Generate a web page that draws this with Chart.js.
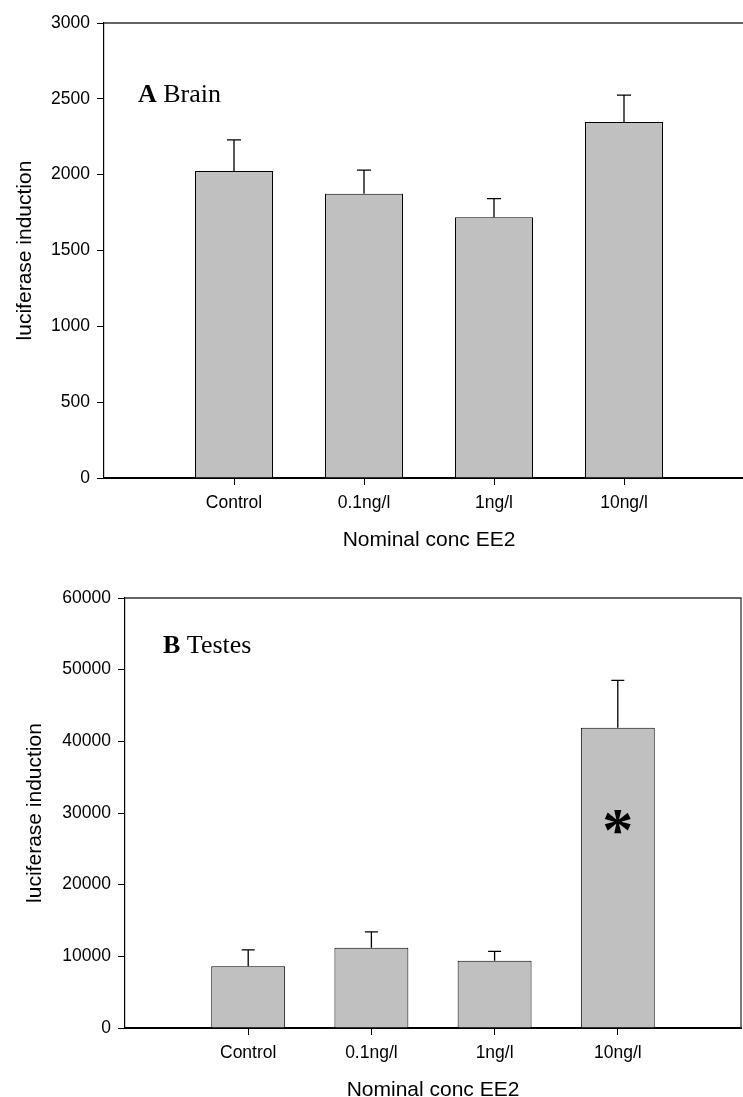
<!DOCTYPE html>
<html><head><meta charset="utf-8">
<script src="https://cdn.jsdelivr.net/npm/chart.js@4.4.1/dist/chart.umd.min.js"></script>
<style>
html,body{margin:0;padding:0;overflow:hidden;background:#fff;width:743px;height:1097px;position:relative;}
canvas{position:absolute;left:0;}
</style></head><body>
<canvas id="brain" width="770" height="560" style="top:0"></canvas>
<canvas id="testes" width="749" height="560" style="top:560px"></canvas>
<script>
// ---- data ----
const categories = ['Control', '0.1ng/l', '1ng/l', '10ng/l'];
const brainMean = [2025, 1875, 1720, 2347];
const brainUpperErr = [2230, 2030, 1842, 2525];
const testesMean = [8600, 11200, 9400, 41900];
const testesUpperErr = [10900, 13400, 10700, 48500];
const testesSignificant = [false, false, false, true];
const brainTicks = [0, 500, 1000, 1500, 2000, 2500, 3000];
const testesTicks = [0, 10000, 20000, 30000, 40000, 50000, 60000];
const xTitle = 'Nominal conc EE2';
const yTitle = 'luciferase induction';

// ---- helpers ----
const SANS = '"Liberation Sans", Arial, sans-serif';
const SERIF = '"Liberation Serif", "Times New Roman", serif';
const pad = arr => [null, ...arr, null];
const labels = ['', ...categories, ''];

const errorBarPlugin = {
  id: 'errorBars',
  afterDatasetsDraw(chart, args, opts) {
    const ctx = chart.ctx, ys = chart.scales.y;
    chart.data.datasets.forEach((ds, di) => {
      chart.getDatasetMeta(di).data.forEach((bar, i) => {
        const top = ds.errorTop[i];
        if (top == null || ds.data[i] == null) return;
        const yt = ys.getPixelForValue(top);
        ctx.save();
        ctx.strokeStyle = '#000'; ctx.lineWidth = 1.3;
        ctx.beginPath();
        ctx.moveTo(bar.x, bar.y); ctx.lineTo(bar.x, yt);
        ctx.moveTo(bar.x - opts.cap / 2, yt); ctx.lineTo(bar.x + opts.cap / 2, yt);
        ctx.stroke();
        ctx.restore();
      });
    });
  }
};

const framePlugin = {
  id: 'frame',
  afterDraw(chart, args, opts) {
    const {ctx, chartArea: a} = chart;
    ctx.save();
    ctx.strokeStyle = opts.color; ctx.lineWidth = opts.width;
    ctx.beginPath();
    ctx.moveTo(a.left, a.top); ctx.lineTo(a.right, a.top); ctx.lineTo(a.right, a.bottom);
    ctx.stroke();
    ctx.restore();
  }
};

const panelLabelPlugin = {
  id: 'panelLabel',
  afterDraw(chart, args, opts) {
    const {ctx, chartArea: a} = chart;
    ctx.save();
    ctx.fillStyle = '#000'; ctx.textBaseline = 'alphabetic'; ctx.textAlign = 'left';
    let x = a.left + opts.dx; const y = a.top + opts.dy;
    ctx.font = 'bold ' + opts.size + 'px ' + SERIF;
    ctx.fillText(opts.bold, x, y);
    x += ctx.measureText(opts.bold).width;
    ctx.font = opts.size + 'px ' + SERIF;
    ctx.fillText(opts.text, x, y);
    ctx.restore();
  }
};

const asteriskPlugin = {
  id: 'asterisk',
  afterDatasetsDraw(chart, args, opts) {
    if (!opts.marks) return;
    const ctx = chart.ctx, ys = chart.scales.y;
    const meta = chart.getDatasetMeta(0);
    ctx.save();
    ctx.fillStyle = '#000'; ctx.font = 'bold ' + opts.size + 'px ' + SERIF;
    ctx.textAlign = 'left'; ctx.textBaseline = 'alphabetic';
    opts.marks.forEach((m, i) => {
      if (!m) return;
      const bar = meta.data[i];
      const cy = ys.getPixelForValue(opts.value);
      const mt = ctx.measureText('*');
      const w = mt.actualBoundingBoxLeft + mt.actualBoundingBoxRight;
      const h = mt.actualBoundingBoxAscent + mt.actualBoundingBoxDescent;
      const x = bar.x - w / 2 + mt.actualBoundingBoxLeft;
      const y = cy - h / 2 + mt.actualBoundingBoxAscent;
      ctx.fillText('*', x, y);
    });
    ctx.restore();
  }
};

function makeChart(id, cfg) {
  return new Chart(document.getElementById(id), {
    type: 'bar',
    data: {
      labels: labels,
      datasets: [{
        data: pad(cfg.mean),
        errorTop: pad(cfg.err),
        backgroundColor: '#c0c0c0',
        borderColor: '#000',
        borderWidth: 1,
        categoryPercentage: 1,
        barPercentage: 0.6
      }]
    },
    options: {
      responsive: false,
      animation: false,
      events: [],
      layout: {padding: cfg.padding},
      plugins: {
        legend: {display: false},
        tooltip: {enabled: false},
        errorBars: {cap: cfg.cap},
        frame: {color: '#333', width: 1.3},
        panelLabel: cfg.panel,
        asterisk: cfg.asterisk || {}
      },
      scales: {
        x: {
          type: 'category',
          offset: false,
          grid: {
            display: true, drawOnChartArea: false, drawTicks: true, tickLength: 7, offset: false,
            tickWidth: 1,
            tickColor: c => (c.index === 0 || c.index === labels.length - 1) ? 'rgba(0,0,0,0)' : '#000'
          },
          border: {display: true, color: '#000', width: 2},
          ticks: {color: '#000', font: {family: SANS, size: 17.5}, padding: 8, maxRotation: 0, autoSkip: false},
          title: {display: true, text: xTitle, color: '#000', font: {family: SANS, size: 21}, padding: {top: 0, bottom: cfg.xTitlePad}},
          afterFit: s => { s.height = cfg.xHeight; }
        },
        y: {
          min: cfg.ticks[0],
          max: cfg.ticks[cfg.ticks.length - 1],
          afterBuildTicks: s => { s.ticks = cfg.ticks.map(v => ({value: v})); },
          grid: {drawOnChartArea: false, drawTicks: true, tickLength: 7, tickColor: '#000', tickWidth: 1},
          border: {display: true, color: '#000', width: 1.2},
          ticks: {color: '#000', font: {family: SANS, size: 17.5}, padding: 7, callback: v => String(v)},
          title: {display: true, text: yTitle, color: '#000', font: {family: SANS, size: 21}, padding: {top: cfg.yTitlePad, bottom: 0}},
          afterFit: s => { s.width = cfg.yWidth; }
        }
      }
    },
    plugins: [errorBarPlugin, framePlugin, panelLabelPlugin, asteriskPlugin]
  });
}

makeChart('brain', {
  mean: brainMean, err: brainUpperErr, ticks: brainTicks,
  padding: {left: 0, top: 23, right: 16, bottom: 0},
  yWidth: 104, xHeight: 82, xTitlePad: 7, yTitlePad: 13, cap: 14,
  panel: {bold: 'A', text: ' Brain', dx: 34, dy: 79, size: 26}
});

makeChart('testes', {
  mean: testesMean, err: testesUpperErr, ticks: testesTicks,
  padding: {left: 0, top: 38, right: 2, bottom: 0},
  yWidth: 125, xHeight: 92, xTitlePad: 17.4, yTitlePad: 23, cap: 13,
  panel: {bold: 'B', text: ' Testes', dx: 38, dy: 55, size: 26},
  asterisk: {marks: pad(testesSignificant), value: 28700, size: 62}
});
</script>
</body></html>
